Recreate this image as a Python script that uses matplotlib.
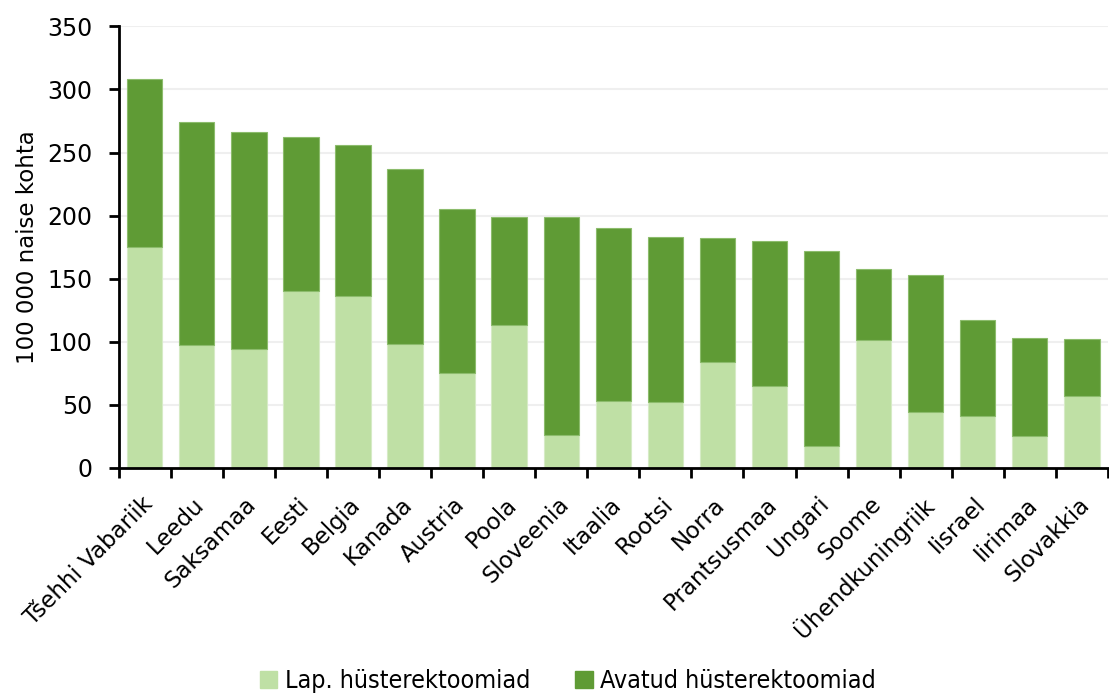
import matplotlib.pyplot as plt
import numpy as np
from matplotlib.patches import Patch
from matplotlib.transforms import ScaledTranslation

countries = ["Tšehhi Vabariik", "Leedu", "Saksamaa", "Eesti", "Belgia", "Kanada",
             "Austria", "Poola", "Sloveenia", "Itaalia", "Rootsi", "Norra",
             "Prantsusmaa", "Ungari", "Soome", "Ühendkuningriik", "Iisrael",
             "Iirimaa", "Slovakkia"]
laparoscopic = [175, 97, 94, 140, 136, 98, 75, 113, 26, 53, 52, 84, 65, 17, 101, 44, 41, 25, 57]
total = [308, 274, 266, 262, 256, 237, 205, 199, 199, 190, 183, 182, 180, 172, 158, 153, 117, 103, 102]
open_surgery = [t - l for t, l in zip(total, laparoscopic)]

light = "#bfe0a5"
dark = "#5f9b35"

plt.rcParams['font.family'] = ['DejaVu Sans']
fig = plt.figure(figsize=(11.09, 6.95), dpi=100)
ax = fig.add_axes([0.107, 0.327, 0.892, 0.635])

x = np.arange(len(countries))
ax.bar(x, laparoscopic, width=0.68, color=light, edgecolor="#d6ebc6", linewidth=0.8,
       zorder=2, label="Lap. hüsterektoomiad")
ax.bar(x, open_surgery, bottom=laparoscopic, width=0.68, color=dark, edgecolor="#8cbc6c",
       linewidth=0.8, zorder=2, label="Avatud hüsterektoomiad")

ax.set_xlim(-0.5, len(countries) - 0.5)
ax.set_ylim(0, 350)
ax.set_yticks(np.arange(0, 351, 50))
ax.yaxis.grid(True, color="#efefef", linewidth=1.5, zorder=0)
ax.set_axisbelow(True)

ax.set_xticks(x)
ax.set_xticklabels(countries, rotation=45, ha="right", rotation_mode="anchor", fontsize=16.5)
ax.tick_params(axis="x", which="major", length=0, pad=18)
shift = ScaledTranslation(-4 / 100, 0, fig.dpi_scale_trans)
for lbl in ax.get_xticklabels():
    lbl.set_transform(lbl.get_transform() + shift)
ax.set_xticks(np.arange(-0.5, len(countries), 1), minor=True)
ax.tick_params(axis="x", which="minor", length=7, width=2)
ax.tick_params(axis="y", labelsize=17, length=7, width=2, pad=12)

for s in ["top", "right"]:
    ax.spines[s].set_visible(False)
for s in ["left", "bottom"]:
    ax.spines[s].set_linewidth(2)

ax.set_ylabel("100 000 naise kohta", fontsize=16.5, labelpad=6)

handles = [Patch(color=light), Patch(color=dark)]
fig.legend(handles, ["Lap. hüsterektoomiad", "Avatud hüsterektoomiad"],
           loc="lower center", bbox_to_anchor=(0.512, -0.03), ncol=2, frameon=False,
           prop={"family": "DejaVu Sans", "size": 18, "stretch": "condensed"},
           handlelength=0.7, handleheight=0.7, handletextpad=0.3, columnspacing=1.8)

fig.savefig("out.png", dpi=100)
